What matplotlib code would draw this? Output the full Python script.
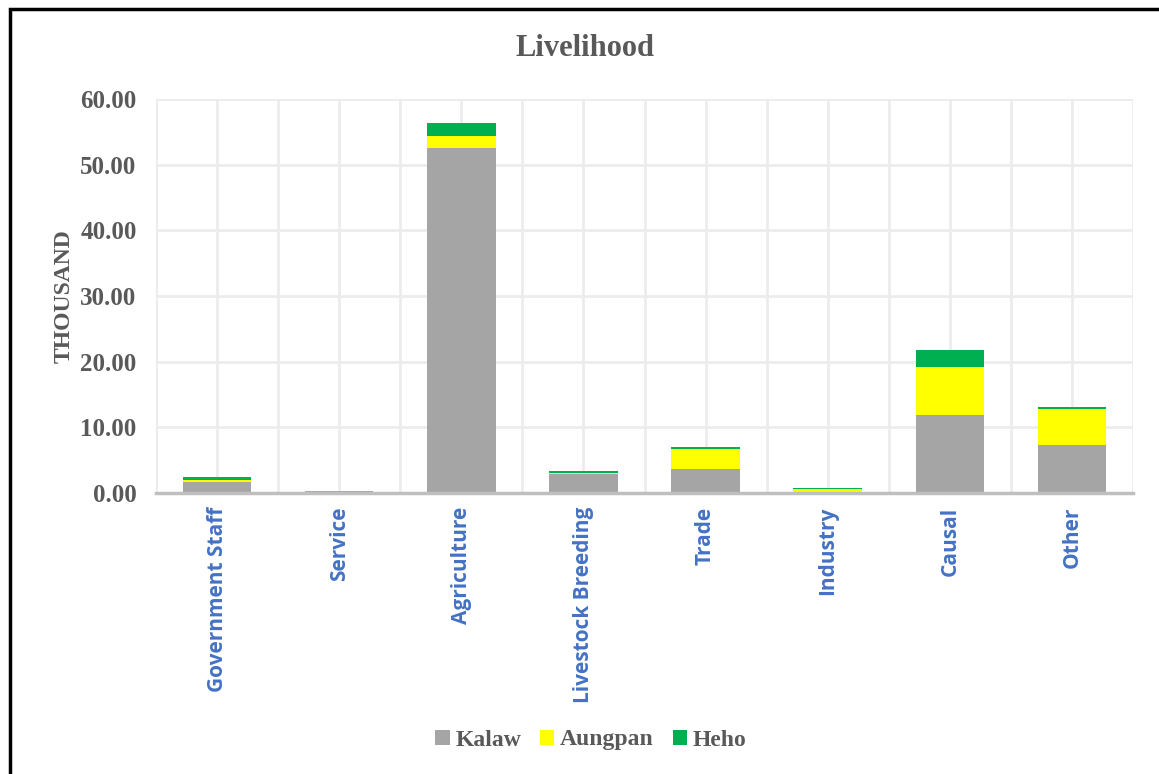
import matplotlib.pyplot as plt
import numpy as np
from matplotlib.patches import Rectangle

categories = ['Government Staff', 'Service', 'Agriculture', 'Livestock Breeding',
              'Trade', 'Industry', 'Causal', 'Other']
kalaw = [1.6, 0.25, 52.6, 2.95, 3.65, 0.15, 11.9, 7.3]
aungpan = [0.4, 0.05, 1.7, 0.15, 3.05, 0.4, 7.3, 5.5]
heho = [0.4, 0.05, 2.0, 0.2, 0.3, 0.2, 2.6, 0.3]
yticks = [0, 10, 20, 30, 40, 50, 60]

serif = 'Liberation Serif'
grey_txt = '#595959'

fig = plt.figure(figsize=(11.59, 7.74), dpi=100)
ax = fig.add_axes([156 / 1159, 1 - 493 / 774, (1133 - 156) / 1159, (493 - 99) / 774])

x = np.arange(len(categories))
w = 0.56
k = np.array(kalaw)
a = np.array(aungpan)
h = np.array(heho)
ax.bar(x, k, w, color='#a5a5a5', label='Kalaw', zorder=3)
ax.bar(x, a, w, bottom=k, color='#ffff00', label='Aungpan', zorder=3)
ax.bar(x, h, w, bottom=k + a, color='#00b050', label='Heho', zorder=3)

ax.set_xlim(-0.5, len(categories) - 0.5)
ax.set_ylim(0, 60)
ax.set_yticks(yticks)
ax.set_yticklabels([f'{v:.2f}' for v in yticks], fontfamily=serif,
                   fontweight='bold', fontsize=18, color=grey_txt)

# vertical gridlines at category centres and boundaries
ax.set_xticks(x)
ax.set_xticks(np.arange(-0.5, len(categories), 1.0), minor=True)
ax.grid(True, which='both', axis='x', color='#ececec', linewidth=2, zorder=0)
ax.grid(True, which='major', axis='y', color='#ececec', linewidth=2, zorder=0)
ax.set_xticklabels(categories, rotation=90, fontfamily='Open Sans',
                   fontweight='bold', fontsize=15, color='#4472c4')
ax.tick_params(which='both', length=0)
ax.tick_params(axis='y', pad=14)
ax.tick_params(axis='x', pad=10)

for side in ['top', 'right', 'left']:
    ax.spines[side].set_visible(False)
ax.spines['bottom'].set_color('#bfbfbf')
ax.spines['bottom'].set_linewidth(2.5)
ax.spines['bottom'].set_zorder(4)

ax.set_ylabel('THOUSAND', fontfamily=serif, fontweight='bold', fontsize=17,
              color=grey_txt, labelpad=4)

fig.text(585 / 1159, 1 - 49 / 774, 'Livelihood', ha='center', va='center',
         fontfamily=serif, fontweight='bold', fontsize=22, color=grey_txt)

fig.legend(loc='center', bbox_to_anchor=(591 / 1159, 1 - 740 / 774), ncol=3,
           frameon=False, prop={'family': serif, 'weight': 'bold', 'size': 17},
           handlelength=0.6, handleheight=0.6, handletextpad=0.25, columnspacing=0.8,
           labelcolor=grey_txt)

# outer chart border
fig.patches.append(Rectangle((10 / 1159, -0.1), 1.2, 1.1 - 9 / 774, transform=fig.transFigure,
                             fill=False, edgecolor='black', linewidth=2.5))

fig.savefig('out.png', dpi=100)
